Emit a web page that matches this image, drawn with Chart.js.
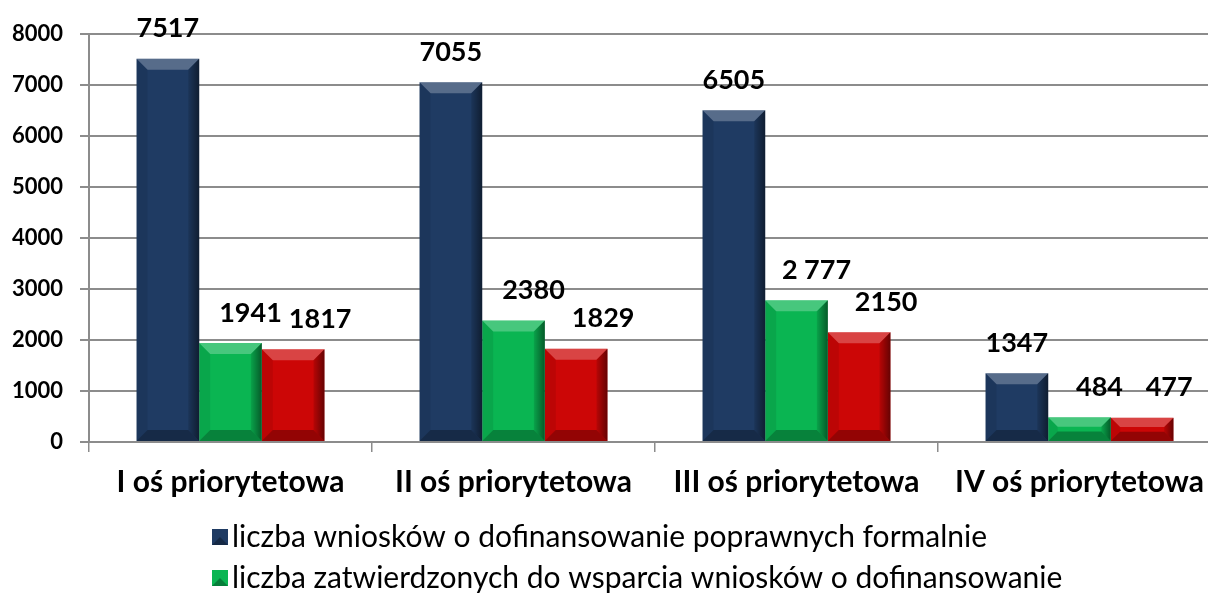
<!DOCTYPE html>
<html>
<head>
<meta charset="utf-8">
<script src="https://cdn.jsdelivr.net/npm/chart.js@4"></script>
<style>
  html, body { margin: 0; padding: 0; background: #fff; overflow: hidden; }
  #wrap { position: absolute; left: 0; top: 0; width: 1226px; height: 594px; }
</style>
</head>
<body>
<div id="wrap"><canvas id="osChart" width="1226" height="594"></canvas></div>
<script>
// Values
const categories = ["I oś priorytetowa", "II oś priorytetowa", "III oś priorytetowa", "IV oś priorytetowa"];
const poprawneFormalnie = [7517, 7055, 6505, 1347];
const zatwierdzone = [1941, 2380, 2777, 484];
const podpisane = [1817, 1829, 2150, 477];
const zatwierdzoneLabels = ["1941", "2380", "2 777", "484"];
const yTicks = [0, 1000, 2000, 3000, 4000, 5000, 6000, 7000, 8000];

const FONT = "Lato, 'Open Sans', sans-serif";
const GRID = "#8c8c8c";

// Bevel look like the old Excel bars
const bevelPlugin = {
  id: "bevel",
  afterDatasetsDraw(chart) {
    const ctx = chart.ctx;
    chart.data.datasets.forEach((ds, i) => {
      const meta = chart.getDatasetMeta(i);
      meta.data.forEach((bar) => {
        const l = bar.x - bar.width / 2;
        const r = bar.x + bar.width / 2;
        const t = bar.y;
        const b = bar.base;
        const h = b - t;
        const bv = Math.min(11, h / 2.5);
        ctx.save();
        // top bevel
        ctx.fillStyle = "rgba(255,255,255,0.25)";
        ctx.beginPath();
        ctx.moveTo(l, t); ctx.lineTo(r, t); ctx.lineTo(r - bv, t + bv); ctx.lineTo(l + bv, t + bv);
        ctx.closePath(); ctx.fill();
        // bottom bevel
        ctx.fillStyle = "rgba(0,0,0,0.28)";
        ctx.beginPath();
        ctx.moveTo(l, b); ctx.lineTo(r, b); ctx.lineTo(r - bv, b - bv); ctx.lineTo(l + bv, b - bv);
        ctx.closePath(); ctx.fill();
        // right side shade
        const g = ctx.createLinearGradient(r - bv, 0, r, 0);
        g.addColorStop(0, "rgba(0,0,0,0.1)");
        g.addColorStop(1, "rgba(0,0,0,0.5)");
        ctx.fillStyle = g;
        ctx.beginPath();
        ctx.moveTo(r, t); ctx.lineTo(r, b); ctx.lineTo(r - bv, b - bv); ctx.lineTo(r - bv, t + bv);
        ctx.closePath(); ctx.fill();
        // left side shade
        ctx.fillStyle = "rgba(0,0,0,0.08)";
        ctx.beginPath();
        ctx.moveTo(l, t); ctx.lineTo(l, b); ctx.lineTo(l + bv, b - bv); ctx.lineTo(l + bv, t + bv);
        ctx.closePath(); ctx.fill();
        ctx.restore();
      });
    });
  },
};

// Value labels above bars
const valueLabels = {
  id: "valueLabels",
  afterDatasetsDraw(chart, args, opts) {
    const ctx = chart.ctx;
    ctx.save();
    ctx.font = "bold 27px " + FONT;
    ctx.fillStyle = "#000";
    ctx.textAlign = "center";
    ctx.textBaseline = "middle";
    chart.data.datasets.forEach((ds, i) => {
      const meta = chart.getDatasetMeta(i);
      const dx = opts.shift[i] || 0;
      meta.data.forEach((bar, j) => {
        const txt = ds.valueText ? ds.valueText[j] : String(ds.data[j]);
        ctx.fillText(txt, bar.x + dx, bar.y - 30);
      });
    });
    ctx.restore();
  },
};

// Legend stacked one item per line, left aligned
const stackedLegend = {
  id: "stackedLegend",
  afterDraw(chart, args, opts) {
    const ctx = chart.ctx;
    ctx.save();
    ctx.font = "30px " + FONT;
    ctx.textBaseline = "middle";
    chart.data.datasets.forEach((ds, i) => {
      const y = opts.top + i * opts.lineGap;
      if (y > chart.height) return;
      const x = opts.left;
      ctx.fillStyle = ds.backgroundColor;
      ctx.fillRect(x, y - 8, 16, 16);
      ctx.fillStyle = "rgba(0,0,0,0.3)";
      ctx.beginPath();
      ctx.moveTo(x, y + 8); ctx.lineTo(x + 16, y + 8); ctx.lineTo(x + 8, y); ctx.closePath(); ctx.fill();
      ctx.fillStyle = "#000";
      ctx.fillText(ds.label, x + 20, y);
    });
    ctx.restore();
  },
};

new Chart(document.getElementById("osChart"), {
  type: "bar",
  data: {
    labels: categories,
    datasets: [
      {
        label: "liczba wniosków o dofinansowanie poprawnych formalnie",
        data: poprawneFormalnie,
        backgroundColor: "#1f3b63",
      },
      {
        label: "liczba zatwierdzonych do wsparcia wniosków o dofinansowanie",
        data: zatwierdzone,
        valueText: zatwierdzoneLabels,
        backgroundColor: "#0ab552",
      },
      {
        label: "liczba podpisanych umów o dofinansowanie",
        data: podpisane,
        backgroundColor: "#cc0606",
      },
    ],
  },
  options: {
    responsive: false,
    animation: false,
    devicePixelRatio: 1,
    layout: { padding: { top: 34, right: 5, bottom: 0, left: 0 } },
    datasets: {
      bar: { categoryPercentage: 0.664, barPercentage: 1, borderWidth: 0 },
    },
    scales: {
      x: {
        grid: { display: true, drawOnChartArea: false, offset: true, color: GRID, lineWidth: 1.5, tickLength: 10 },
        border: { display: true, color: GRID, width: 2 },
        ticks: { color: "#000", font: { family: FONT, size: 30, weight: "bold" }, padding: 12, maxRotation: 0 },
        afterFit(scale) { scale.height = 152; },
      },
      y: {
        min: 0,
        max: 8000,
        afterBuildTicks(scale) { scale.ticks = yTicks.map((v) => ({ value: v })); },
        grid: { color: GRID, lineWidth: 2, tickLength: 9 },
        border: { display: true, color: GRID, width: 2 },
        ticks: {
          color: "#000",
          font: { family: FONT, size: 22, weight: "bold" },
          padding: 17,
          callback: (v) => String(v),
        },
        afterFit(scale) { scale.width = 89; },
      },
    },
    plugins: {
      legend: { display: false },
      tooltip: { enabled: false },
      valueLabels: { shift: [0, 20, 27] },
      stackedLegend: { left: 212, top: 537, lineGap: 41 },
    },
  },
  plugins: [bevelPlugin, valueLabels, stackedLegend],
});
</script>
</body>
</html>
